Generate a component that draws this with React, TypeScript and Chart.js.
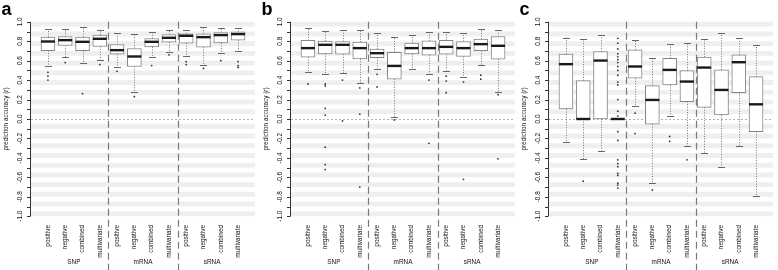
import React, { useEffect, useRef } from "react";
import { Chart, registerables } from "chart.js";
Chart.register(...registerables);

const categories = [
  "positive", "negative", "combined", "multivariate",
  "positive", "negative", "combined", "multivariate",
  "positive", "negative", "combined", "multivariate",
];
const groups = ["SNP", "mRNA", "sRNA"];
const groupCenters = [2.5, 6.5, 10.5];
const groupSeparators = [4.5, 8.5];
const yTickLabels = [-1.0, -0.8, -0.6, -0.4, -0.2, 0.0, 0.2, 0.4, 0.6, 0.8, 1.0];
const yMinorTicks = [-1.0, -0.9, -0.8, -0.7, -0.6, -0.5, -0.4, -0.3, -0.2, -0.1, 0.0, 0.1, 0.2, 0.3, 0.4, 0.5, 0.6, 0.7, 0.8, 0.9, 1.0];
const axisTitle = "prediction accuracy (";
const axisTitleItalic = "r";
const axisTitleEnd = ")";

// Panel a
const aLow = [0.546, 0.636, 0.574, 0.608, 0.540, 0.282, 0.636, 0.687, 0.643, 0.557, 0.677, 0.701];
const aQ1 = [0.704, 0.756, 0.704, 0.746, 0.667, 0.540, 0.742, 0.790, 0.780, 0.739, 0.783, 0.811];
const aMed = [0.797, 0.811, 0.794, 0.825, 0.708, 0.643, 0.794, 0.835, 0.856, 0.842, 0.863, 0.873];
const aQ3 = [0.842, 0.849, 0.842, 0.863, 0.766, 0.725, 0.828, 0.869, 0.876, 0.876, 0.890, 0.897];
const aHigh = [0.924, 0.928, 0.945, 0.911, 0.883, 0.873, 0.900, 0.911, 0.918, 0.945, 0.938, 0.938];
const aOut = [[0.48, 0.44, 0.40], [0.58], [0.26], [0.56], [0.49], [0.23], [0.55], [0.66], [0.59, 0.56], [0.52], [0.60], [0.59, 0.55, 0.53]];

// Panel b
const bLow = [0.488, 0.467, 0.474, 0.368, 0.519, 0.017, 0.515, 0.464, 0.498, 0.430, 0.560, 0.275];
const bQ1 = [0.636, 0.670, 0.667, 0.619, 0.632, 0.409, 0.670, 0.656, 0.667, 0.643, 0.704, 0.615];
const bMed = [0.729, 0.763, 0.763, 0.729, 0.677, 0.546, 0.729, 0.729, 0.742, 0.729, 0.770, 0.753];
const bQ3 = [0.808, 0.801, 0.797, 0.790, 0.718, 0.687, 0.780, 0.804, 0.808, 0.797, 0.821, 0.849];
const bHigh = [0.935, 0.907, 0.914, 0.914, 0.883, 0.842, 0.863, 0.893, 0.893, 0.883, 0.924, 0.911];
const bOut = [[0.36], [0.36, 0.34, 0.11, 0.04, -0.29, -0.47, -0.52], [0.40, -0.02], [0.32, 0.05, -0.70], [0.46, 0.33], [-0.01], [], [0.40, -0.25], [0.44, 0.39, 0.27], [0.38, -0.62], [0.45, 0.41], [0.25, -0.41]];

// Panel c
const cLow = [-0.234, -0.416, -0.326, 0.0, 0.134, -0.657, 0.034, -0.278, -0.354, -0.498, -0.278, -0.794];
const cQ1 = [0.103, 0.0, 0.0, 0.0, 0.419, -0.052, 0.351, 0.179, 0.120, 0.041, 0.271, -0.130];
const cMed = [0.564, 0.0, 0.601, 0.0, 0.540, 0.196, 0.505, 0.385, 0.529, 0.299, 0.584, 0.151];
const cQ3 = [0.667, 0.395, 0.694, 0.0, 0.711, 0.344, 0.625, 0.498, 0.636, 0.505, 0.660, 0.436];
const cHigh = [0.838, 0.821, 0.866, 0.0, 0.808, 0.625, 0.770, 0.780, 0.821, 0.883, 0.832, 0.763];
const cOut = [[], [-0.64], [], [0.83, 0.78, 0.72, 0.67, 0.64, 0.61, 0.58, 0.54, 0.50, 0.45, 0.38, 0.35, 0.20, 0.08, 0.03, -0.13, -0.22, -0.42, -0.46, -0.49, -0.56, -0.58, -0.66, -0.68, -0.71], [0.06, -0.15], [-0.73], [-0.18, -0.23], [-0.42], [], [], [], []];

const FONT = '"Liberation Sans", Arial, Helvetica, sans-serif';

type PanelProps = {
  letter: string; left: number;
  low: number[]; q1: number[]; med: number[]; q3: number[]; high: number[]; out: number[][];
};

function makeDeco(p: PanelProps) {
  return {
    id: "boxdeco",
    beforeDatasetsDraw(chart: any) {
      const { ctx, chartArea, scales } = chart;
      const x = scales.x, y = scales.y;
      ctx.save();
      // stripes
      ctx.fillStyle = "#efefef";
      for (let k = 0; k < 10; k++) {
        const a = 0.05 + 0.1 * k, b = 0.1 + 0.1 * k;
        for (const s of [1, -1]) {
          const y1 = y.getPixelForValue(s * a), y2 = y.getPixelForValue(s * b);
          ctx.fillRect(chartArea.left, Math.min(y1, y2), chartArea.right - chartArea.left, Math.abs(y2 - y1));
        }
      }
      // zero line
      ctx.strokeStyle = "#a0a0a0";
      ctx.lineWidth = 0.8;
      ctx.setLineDash([2, 2]);
      const y0 = Math.round(y.getPixelForValue(0)) + 0.5;
      ctx.beginPath();
      ctx.moveTo(chartArea.left, y0);
      ctx.lineTo(chartArea.right, y0);
      ctx.stroke();
      // separators
      ctx.strokeStyle = "#7a7a7a";
      ctx.lineWidth = 1.2;
      ctx.setLineDash([7, 4]);
      for (const s of groupSeparators) {
        const px = Math.round(x.getPixelForValue(s)) + 0.5;
        ctx.beginPath();
        ctx.moveTo(px, y.getPixelForValue(1.0));
        ctx.lineTo(px, chart.height);
        ctx.stroke();
      }
      ctx.setLineDash([]);
      // whiskers
      const cap = 7;
      for (let i = 0; i < p.q1.length; i++) {
        const px = Math.round(x.getPixelForValue(i + 1)) + 0.5;
        const yq1 = y.getPixelForValue(p.q1[i]);
        const yq3 = y.getPixelForValue(p.q3[i]);
        const ylo = y.getPixelForValue(p.low[i]);
        const yhi = y.getPixelForValue(p.high[i]);
        if (Math.abs(yhi - ylo) < 0.5) continue;
        ctx.strokeStyle = "#777";
        ctx.lineWidth = 1;
        ctx.setLineDash([1, 1.6]);
        ctx.beginPath();
        ctx.moveTo(px, yq3); ctx.lineTo(px, yhi);
        ctx.moveTo(px, yq1); ctx.lineTo(px, ylo);
        ctx.stroke();
        ctx.setLineDash([]);
        ctx.strokeStyle = "#666";
        ctx.beginPath();
        const yh = Math.round(yhi) + 0.5, yl = Math.round(ylo) + 0.5;
        ctx.moveTo(px - cap / 2, yh); ctx.lineTo(px + cap / 2, yh);
        ctx.moveTo(px - cap / 2, yl); ctx.lineTo(px + cap / 2, yl);
        ctx.stroke();
      }
      ctx.restore();
    },
    afterDatasetsDraw(chart: any) {
      const { ctx, scales } = chart;
      const x = scales.x, y = scales.y;
      ctx.save();
      ctx.strokeStyle = "#1a1a1a";
      ctx.lineWidth = 2.4;
      for (let i = 0; i < p.med.length; i++) {
        const px = x.getPixelForValue(i + 1);
        const py = y.getPixelForValue(p.med[i]);
        ctx.beginPath();
        ctx.moveTo(px - 7, py); ctx.lineTo(px + 7, py);
        ctx.stroke();
      }
      ctx.restore();
    },
    afterDraw(chart: any) {
      const { ctx, chartArea, scales } = chart;
      const x = scales.x, y = scales.y;
      ctx.save();
      // y axis
      const ax = chartArea.left - 0.5;
      ctx.strokeStyle = "#333";
      ctx.lineWidth = 1;
      ctx.beginPath();
      ctx.moveTo(ax, y.getPixelForValue(1.0));
      ctx.lineTo(ax, y.getPixelForValue(-1.0));
      for (const v of yMinorTicks) {
        const py = Math.round(y.getPixelForValue(v)) + 0.5;
        ctx.moveTo(ax, py); ctx.lineTo(ax - 3.5, py);
      }
      ctx.stroke();
      ctx.fillStyle = "#111";
      ctx.font = `6.4px ${FONT}`;
      ctx.textAlign = "center";
      ctx.textBaseline = "middle";
      for (const v of yTickLabels) {
        const py = y.getPixelForValue(v);
        ctx.save();
        ctx.translate(20.5, py);
        ctx.rotate(-Math.PI / 2);
        ctx.fillText(v.toFixed(1), 0, 0);
        ctx.restore();
      }
      // axis title
      ctx.save();
      ctx.translate(6, (y.getPixelForValue(1.0) + y.getPixelForValue(-1.0)) / 2);
      ctx.rotate(-Math.PI / 2);
      ctx.textAlign = "left";
      const f1 = `6.4px ${FONT}`, f2 = `italic 6.4px ${FONT}`;
      ctx.font = f1; const w1 = ctx.measureText(axisTitle).width; const w3 = ctx.measureText(axisTitleEnd).width;
      ctx.font = f2; const w2 = ctx.measureText(axisTitleItalic).width;
      let cx = -(w1 + w2 + w3) / 2;
      ctx.font = f1; ctx.fillText(axisTitle, cx, 0); cx += w1;
      ctx.font = f2; ctx.fillText(axisTitleItalic, cx, 0); cx += w2;
      ctx.font = f1; ctx.fillText(axisTitleEnd, cx, 0);
      ctx.restore();
      // category labels
      ctx.font = `6.4px ${FONT}`;
      ctx.textAlign = "right";
      ctx.textBaseline = "middle";
      for (let i = 0; i < categories.length; i++) {
        const px = x.getPixelForValue(i + 1);
        ctx.save();
        ctx.translate(px, chartArea.bottom + 1);
        ctx.rotate(-Math.PI / 2);
        ctx.fillText(categories[i], 0, 0);
        ctx.restore();
      }
      // group labels
      ctx.textAlign = "center";
      for (let g = 0; g < groups.length; g++) {
        ctx.fillText(groups[g], x.getPixelForValue(groupCenters[g]), 262.5);
      }
      // panel letter
      ctx.fillStyle = "#000";
      ctx.font = `bold 18px ${FONT}`;
      ctx.textAlign = "left";
      ctx.textBaseline = "alphabetic";
      ctx.fillText(p.letter, 1.5, 15);
      ctx.restore();
    },
  };
}

function Panel(p: PanelProps) {
  const ref = useRef<HTMLCanvasElement>(null);
  useEffect(() => {
    if (!ref.current) return;
    const boxes = p.q1.map((v, i) => ({ x: i + 1, y: [v, p.q3[i]] }));
    const outliers = p.out.flatMap((arr, i) => arr.map((v) => ({ x: i + 1, y: v })));
    const chart = new Chart(ref.current, {
      type: "bar",
      data: {
        datasets: [
          {
            type: "bar",
            data: boxes as any,
            backgroundColor: "#ffffff",
            borderColor: "#858585",
            borderWidth: 1,
            borderSkipped: false,
            barThickness: 14,
          } as any,
          {
            type: "scatter",
            data: outliers as any,
            pointRadius: 0.9,
            pointBackgroundColor: "#333",
            pointBorderWidth: 0,
          } as any,
        ],
      },
      options: {
        responsive: false,
        animation: false,
        devicePixelRatio: 1,
        layout: { padding: { left: 31, right: 5, top: 14, bottom: 46 } },
        scales: {
          x: { type: "linear", min: 0.02, max: 12.98, display: false, offset: false, grid: { offset: false } },
          y: { type: "linear", min: -1.08, max: 1.08, display: false },
        },
        plugins: { legend: { display: false }, tooltip: { enabled: false } },
      },
      plugins: [makeDeco(p)],
    } as any);
    return () => chart.destroy();
  }, []);
  return (
    <canvas
      ref={ref}
      width={260}
      height={270}
      style={{ position: "absolute", left: p.left, top: 0, width: 260, height: 270 }}
    />
  );
}

export default function App() {
  useEffect(() => {
    document.body.style.margin = "0";
  }, []);
  return (
    <div style={{ position: "relative", width: 778, height: 270, background: "#fff", overflow: "hidden" }}>
      <Panel letter="a" left={0} low={aLow} q1={aQ1} med={aMed} q3={aQ3} high={aHigh} out={aOut} />
      <Panel letter="b" left={260} low={bLow} q1={bQ1} med={bMed} q3={bQ3} high={bHigh} out={bOut} />
      <Panel letter="c" left={518} low={cLow} q1={cQ1} med={cMed} q3={cQ3} high={cHigh} out={cOut} />
    </div>
  );
}
